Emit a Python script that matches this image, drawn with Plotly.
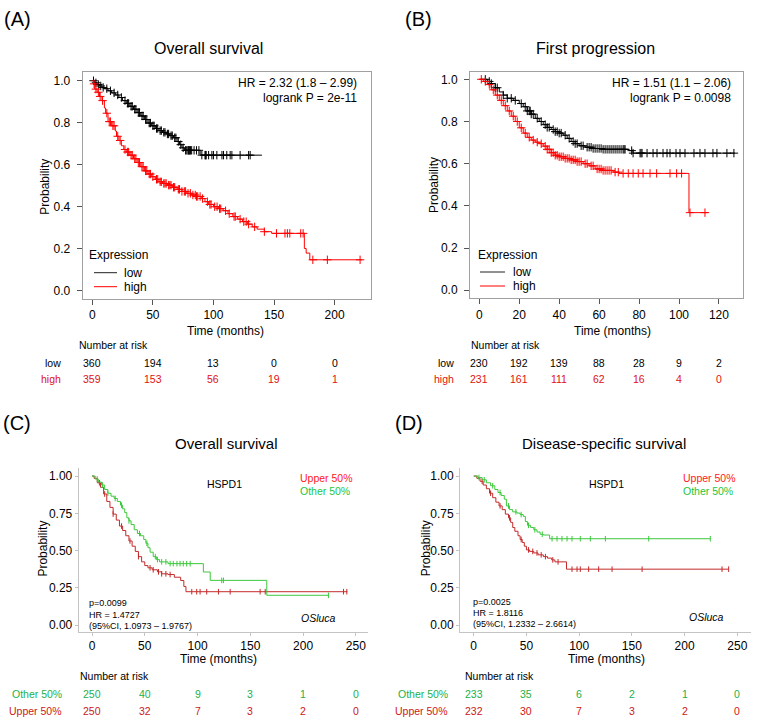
import numpy as np
import plotly.graph_objects as go

W, H = 761, 725
FONT = "Liberation Sans, Arial, sans-serif"

# ---------------- DATA ----------------
# Panel A : Overall survival (low / high)
A_low_t = [2, 4, 6, 8, 10, 13, 16, 19, 22, 25, 28, 31, 34, 37, 40, 43, 46, 49, 52, 55, 58, 61, 64, 67, 70, 72, 74, 76, 89]
A_low_s = [0.99, 0.982, 0.975, 0.968, 0.962, 0.952, 0.942, 0.932, 0.92, 0.905, 0.892, 0.878, 0.864, 0.848, 0.832, 0.815,
           0.798, 0.785, 0.772, 0.762, 0.754, 0.746, 0.738, 0.728, 0.71, 0.695, 0.68, 0.668, 0.645]
A_low_end = 140
A_low_cens = [1, 3, 5, 7, 9, 12, 15, 18, 21, 24, 27, 29, 30, 32, 33, 35, 36, 38, 39, 41, 42, 44, 45, 47, 48, 50, 51, 53,
              54, 56, 57, 59, 60, 62, 63, 65, 66, 68, 69, 71, 73, 75, 77, 78, 79, 79.5, 80, 80.5, 81, 82, 84, 86, 88,
              90.4, 93, 93.5, 94, 96, 98.7, 100, 102.8, 107, 108.3, 111, 113.8, 115.2, 122, 129, 130.3]
A_high_t = [1, 2, 4, 6, 8, 10, 11, 13, 16, 19, 20, 22, 24, 26, 28, 31, 34, 37, 40, 43, 46, 49, 52, 55, 58, 62, 66, 70, 74,
            78, 82, 86, 90, 93, 96, 100, 104, 108, 112, 116, 120, 124, 128, 132, 136, 142, 148, 175, 176.5, 179.5]
A_high_s = [0.985, 0.96, 0.945, 0.925, 0.905, 0.87, 0.845, 0.805, 0.785, 0.76, 0.735, 0.715, 0.69, 0.672, 0.66, 0.645,
            0.628, 0.61, 0.59, 0.57, 0.555, 0.542, 0.53, 0.518, 0.51, 0.502, 0.492, 0.482, 0.472, 0.463, 0.455, 0.448,
            0.438, 0.423, 0.41, 0.399, 0.39, 0.38, 0.366, 0.352, 0.34, 0.328, 0.316, 0.303, 0.292, 0.28, 0.272, 0.2,
            0.178, 0.146]
A_high_end = 222.6
A_high_cens = [1.5, 3, 5, 6.5, 8.5, 12, 14, 15, 17, 18, 21, 23, 27, 29, 30, 32, 33, 35, 36, 38, 39, 41, 42, 44, 45, 47, 48,
               50, 53, 54, 56, 57, 59, 60, 61, 63, 64, 65, 67, 68, 71, 72, 74, 76, 77, 79, 81, 83, 85, 86, 87, 89, 91,
               95, 97, 98, 101, 103, 105, 106, 110, 113, 117, 118, 122, 125, 127, 129, 134, 142, 152, 159, 161, 163,
               172, 174, 182, 194, 221]
A_risk_t = [0, 50, 100, 150, 200]
A_risk_low = [360, 194, 13, 0, 0]
A_risk_high = [359, 153, 56, 19, 1]

# Panel B : First progression (low / high)
B_low_t = [4, 6, 8, 10, 12, 14, 17, 20, 22, 24, 26, 28, 30, 32, 34, 36, 38, 40, 42, 44, 46, 48, 50, 53, 57, 62, 75, 77]
B_low_s = [0.99, 0.98, 0.96, 0.94, 0.925, 0.91, 0.9, 0.885, 0.87, 0.85, 0.835, 0.815, 0.8, 0.785, 0.772, 0.762, 0.752,
           0.745, 0.735, 0.72, 0.705, 0.695, 0.685, 0.678, 0.672, 0.668, 0.662, 0.65]
B_low_end = 128
B_low_cens = [3, 5, 6, 8, 9, 12, 14, 16, 18, 21, 23, 24, 25, 25.5, 26, 27, 29, 31, 33, 34, 35, 37, 38, 39, 40, 41, 43,
              45, 47, 48, 49, 51, 52, 54, 55, 56, 57, 58, 59, 60, 61, 62, 63, 64, 65, 66, 67, 68, 69, 70, 71, 72, 72.5,
              73, 76.3, 77, 80.5, 81, 81.5, 84, 87, 89, 92, 94, 95.5, 98.5, 100.5, 103, 107.5, 110.5, 113, 117, 119,
              124, 127.5]
B_high_t = [2, 4, 6, 8, 10, 12, 14, 16, 18, 20, 22, 24, 26, 28, 30, 32, 34, 36, 38, 40, 43, 46, 49, 52, 55, 58, 62, 67,
            70, 105]
B_high_s = [0.99, 0.975, 0.95, 0.925, 0.9, 0.875, 0.85, 0.825, 0.8, 0.77, 0.745, 0.725, 0.712, 0.702, 0.695, 0.683,
            0.668, 0.652, 0.64, 0.633, 0.625, 0.618, 0.61, 0.6, 0.59, 0.575, 0.568, 0.56, 0.554, 0.368]
B_high_end = 114.6
B_high_cens = [1, 3, 5, 7, 9, 11, 13, 15, 17, 19, 21, 23, 25, 27, 29, 31, 33, 34, 35, 36, 37, 38, 39, 40, 41, 42, 43, 44,
               45, 46, 47, 48, 49, 50, 51, 53, 54, 56, 57, 59, 60, 61, 62, 63, 64, 65, 66, 68, 69.6, 72, 74.6, 77,
               79.6, 82, 85.5, 88.8, 95.5, 98.8, 101.3, 105.5, 113]
B_risk_t = [0, 20, 40, 60, 80, 100, 120]
B_risk_low = [230, 192, 139, 88, 28, 9, 2]
B_risk_high = [231, 161, 111, 62, 16, 4, 0]

# Panel C : Overall survival (Other 50% / Upper 50%)
C_oth_t = [3, 6, 9, 12, 15, 18, 21, 24, 27, 29, 31, 33, 35, 37, 40, 43, 46, 49, 51, 53, 55, 58, 61, 64, 72, 105.5, 112,
           165.6]
C_oth_s = [0.98, 0.96, 0.94, 0.91, 0.885, 0.865, 0.85, 0.83, 0.805, 0.78, 0.755, 0.72, 0.7, 0.675, 0.64, 0.615, 0.6,
           0.575, 0.55, 0.52, 0.49, 0.46, 0.44, 0.425, 0.413, 0.357, 0.301, 0.201]
C_oth_end = 224
C_oth_cens = [5, 10, 15, 22, 28, 35, 45, 52, 60, 62, 66, 70, 74, 77, 80.5, 83.4, 86.5, 89.7, 93, 122.9, 124.5, 224]
C_upp_t = [2, 5, 8, 11, 14, 17, 20, 23, 26, 29, 32, 35, 38, 41, 44, 47, 50, 53, 57, 62, 66, 72, 78, 84, 87, 89]
C_upp_s = [0.985, 0.955, 0.925, 0.88, 0.83, 0.79, 0.745, 0.705, 0.665, 0.635, 0.6, 0.565, 0.53, 0.495, 0.46, 0.425, 0.4,
           0.385, 0.372, 0.358, 0.345, 0.34, 0.322, 0.3, 0.26, 0.225]
C_upp_end = 242
C_upp_cens = [7, 12, 20, 28, 36, 44, 55, 58, 63, 66, 70, 74, 94.5, 99.2, 102.4, 108.7, 119.8, 130.9, 159.3, 164.1,
              238.3, 241.4]
C_risk_t = [0, 50, 100, 150, 200, 250]
C_risk_oth = [250, 40, 9, 3, 1, 0]
C_risk_upp = [250, 32, 7, 3, 2, 0]

# Panel D : Disease-specific survival (Other 50% / Upper 50%)
D_oth_t = [4, 8, 12, 16, 20, 23, 26, 29, 31, 34, 37, 41, 44, 47, 49, 51, 54, 57, 60, 63, 66, 72]
D_oth_s = [0.99, 0.975, 0.955, 0.935, 0.91, 0.89, 0.87, 0.845, 0.8, 0.775, 0.76, 0.752, 0.742, 0.73, 0.695, 0.67, 0.655,
           0.64, 0.625, 0.61, 0.605, 0.58]
D_oth_end = 224.4
D_oth_cens = [5, 10, 18, 25, 33, 40, 45, 52, 58, 65, 74.3, 79, 83.7, 88.5, 93.2, 101.1, 110.6, 124.9, 166, 224.4]
D_upp_t = [3, 6, 9, 12, 15, 18, 21, 24, 27, 30, 33, 35, 37, 39, 42, 44, 46, 48, 50, 53, 57, 61, 66, 70, 74, 77, 88]
D_upp_s = [0.985, 0.965, 0.94, 0.915, 0.885, 0.855, 0.825, 0.8, 0.775, 0.745, 0.72, 0.69, 0.655, 0.63, 0.6, 0.575, 0.555,
           0.53, 0.505, 0.495, 0.485, 0.472, 0.46, 0.45, 0.438, 0.425, 0.376]
D_upp_end = 241.8
D_upp_cens = [8, 16, 25, 34, 45, 52, 56, 60, 64, 68, 75, 80, 93.2, 98, 101.1, 109, 118.5, 131.2, 159.7, 235.5, 241.8]
D_risk_t = [0, 50, 100, 150, 200, 250]
D_risk_oth = [233, 35, 6, 2, 1, 0]
D_risk_upp = [232, 30, 7, 3, 2, 0]

# ---------------- HELPERS ----------------
def px(x):
    return x / W


def py(y):
    return 1 - y / H


def km_xy(times, surv, end):
    return [0.0] + list(times) + [end], [1.0] + list(surv) + [surv[-1]]


def cens_y(times, surv, ct):
    t = np.array(times, float)
    s = np.array(surv, float)
    idx = np.searchsorted(t, np.array(ct, float), side="right") - 1
    return np.where(idx >= 0, s[np.clip(idx, 0, None)], 1.0)


RED_AB = "#FF0000"
BLK = "#000000"
GRN = "#3CC83C"
RED_CD = "#C42A2A"

fig = go.Figure()


def add_curve(ax, times, surv, end, cens, color, sym, msize, lw=1):
    x, y = km_xy(times, surv, end)
    xa, ya = ("x", "y") if ax == 1 else (f"x{ax}", f"y{ax}")
    fig.add_trace(go.Scatter(x=x, y=y, mode="lines", line=dict(color=color, width=lw, shape="hv"),
                             xaxis=xa, yaxis=ya, showlegend=False, hoverinfo="skip"))
    fig.add_trace(go.Scatter(x=cens, y=cens_y(times, surv, cens), mode="markers",
                             marker=dict(symbol=sym, size=msize, color=color, line=dict(width=1, color=color)),
                             xaxis=xa, yaxis=ya, showlegend=False, hoverinfo="skip"))


add_curve(1, A_low_t, A_low_s, A_low_end, A_low_cens, BLK, "cross-thin", 6)
add_curve(1, A_high_t, A_high_s, A_high_end, A_high_cens, RED_AB, "cross-thin", 6)
add_curve(2, B_low_t, B_low_s, B_low_end, B_low_cens, BLK, "cross-thin", 6)
add_curve(2, B_high_t, B_high_s, B_high_end, B_high_cens, RED_AB, "cross-thin", 6)
add_curve(3, C_upp_t, C_upp_s, C_upp_end, C_upp_cens, RED_CD, "line-ns", 4)
add_curve(3, C_oth_t, C_oth_s, C_oth_end, C_oth_cens, GRN, "line-ns", 4)
add_curve(4, D_upp_t, D_upp_s, D_upp_end, D_upp_cens, RED_CD, "line-ns", 4)
add_curve(4, D_oth_t, D_oth_s, D_oth_end, D_oth_cens, GRN, "line-ns", 4)

# ---------------- AXES ----------------
tickfont = dict(family=FONT, size=12, color="#000")


def ab_x(dom, rng, tv):
    return dict(domain=[px(dom[0]), px(dom[1])], range=rng, tickvals=tv, showline=True, mirror=True,
                linecolor="#A0A0A0", linewidth=1, ticks="outside", ticklen=5, tickcolor="#555",
                showgrid=False, zeroline=False, tickfont=tickfont)


def ab_y(dom, rng, anchor):
    return dict(domain=[py(dom[1]), py(dom[0])], range=rng, tickvals=[0, 0.2, 0.4, 0.6, 0.8, 1.0],
                tickformat=".1f", showline=True, mirror=True, linecolor="#A0A0A0", linewidth=1,
                ticks="outside", ticklen=5, tickcolor="#555", showgrid=False, zeroline=False,
                tickfont=tickfont, anchor=anchor, ticklabelstandoff=4)


def cd_x(dom, rng):
    return dict(domain=[px(dom[0]), px(dom[1])], range=rng, tickvals=[0, 50, 100, 150, 200, 250],
                showline=True, mirror=False, linecolor="#C4C4C4", linewidth=1, ticks="outside", ticklen=3,
                tickcolor="#C4C4C4", showgrid=False, zeroline=False, tickfont=tickfont)


def cd_y(dom, rng, anchor):
    return dict(domain=[py(dom[1]), py(dom[0])], range=rng, tickvals=[0, 0.25, 0.5, 0.75, 1.0],
                tickformat=".2f", showline=True, mirror=False, linecolor="#C4C4C4", linewidth=1,
                ticks="outside", ticklen=3, tickcolor="#C4C4C4", showgrid=False, zeroline=False,
                tickfont=tickfont, anchor=anchor)


fig.update_layout(
    width=W, height=H, autosize=False, margin=dict(l=0, r=0, t=0, b=0),
    paper_bgcolor="white", plot_bgcolor="white", font=dict(family=FONT, color="#000"),
    xaxis=dict(ab_x((82.7, 371), [-7.9, 230], [0, 50, 100, 150, 200]), anchor="y"),
    yaxis=ab_y((71.7, 299), [-0.041, 1.043], "x"),
    xaxis2=dict(ab_x((470, 742.7), [-4.66, 131.9], [0, 20, 40, 60, 80, 100, 120]), anchor="y2"),
    yaxis2=ab_y((71.7, 298.3), [-0.038, 1.036], "x2"),
    xaxis3=dict(cd_x((78.7, 367.7), [-12.6, 261.2]), anchor="y3"),
    yaxis3=cd_y((468, 631.7), [-0.043, 1.054], "x3"),
    xaxis4=dict(cd_x((460, 750.7), [-13, 262.7]), anchor="y4"),
    yaxis4=cd_y((468, 631.7), [-0.043, 1.054], "x4"),
)

# ---------------- TEXT ----------------
ann = []


def T(x, y, text, size=12, color="#000", xanchor="center", angle=0, xref="paper"):
    ann.append(dict(x=(px(x) if xref == "paper" else x), y=py(y), xref=xref, yref="paper", text=text,
                    showarrow=False, xanchor=xanchor, yanchor="middle", textangle=angle,
                    font=dict(family=FONT, size=size, color=color)))


# panel labels & titles
T(1.5, 19, "(A)", 20, xanchor="left")
T(403, 19, "(B)", 20, xanchor="left")
T(1, 423, "(C)", 20, xanchor="left")
T(393, 423, "(D)", 20, xanchor="left")
T(208, 49, "Overall survival", 16)
T(595, 49, "First progression", 16)
T(226.7, 443.3, "Overall survival", 15)
T(603.7, 443.3, "Disease-specific survival", 15)

# axis titles
T(225, 330.7, "Time (months)", 12)
T(612.3, 330.7, "Time (months)", 12)
T(218, 659, "Time (months)", 12)
T(606, 659, "Time (months)", 12)
T(45, 186.7, "Probability", 12, angle=-90)
T(434, 185, "Probability", 12, angle=-90)
T(43.3, 548.3, "Probability", 12, angle=-90)
T(426, 548.3, "Probability", 12, angle=-90)

# HR texts A/B
T(359.3, 83.3, "HR = 2.32 (1.8 \u2013 2.99)", 12, xanchor="right")
T(359.3, 97.7, "logrank P = 2e-11", 12, xanchor="right")
T(733.3, 83.3, "HR = 1.51 (1.1 \u2013 2.06)", 12, xanchor="right")
T(733.3, 97.7, "logrank P = 0.0098", 12, xanchor="right")

# legends A/B
shapes = []
for (lx0, lx1, tx, ex, ly1, ly2) in [(94, 117, 121.7, 87.3, 272.7, 286.7), (480, 505, 510.7, 476, 272, 286)]:
    T(ex, 255, "Expression", 12, xanchor="left")
    T(tx, ly1, "low", 12, xanchor="left")
    T(tx, ly2, "high", 12, xanchor="left")
    shapes.append(dict(type="line", xref="paper", yref="paper", x0=px(lx0), x1=px(lx1), y0=py(ly1), y1=py(ly1),
                       line=dict(color="#222", width=1)))
    shapes.append(dict(type="line", xref="paper", yref="paper", x0=px(lx0), x1=px(lx1), y0=py(ly2), y1=py(ly2),
                       line=dict(color=RED_AB, width=1)))

# C/D inner annotations
T(224, 484.3, "HSPD1", 10.5)
T(298.3, 478.3, "Upper 50%", 10.5, color="#FF2020", xanchor="left")
T(298.3, 490.7, "Other 50%", 10.5, color="#22C640", xanchor="left")
T(87.3, 603.3, "p=0.0099", 9, xanchor="left")
T(87.3, 615, "HR = 1.4727", 9, xanchor="left")
T(87.3, 626, "(95%CI, 1.0973 \u2013 1.9767)", 9, xanchor="left")
T(338, 618.3, "<i>OSluca</i>", 10.5, xanchor="right")

T(606.7, 484.3, "HSPD1", 10.5)
T(680.7, 478.3, "Upper 50%", 10.5, color="#FF2020", xanchor="left")
T(680.7, 490.7, "Other 50%", 10.5, color="#22C640", xanchor="left")
T(470.7, 602.3, "p=0.0025", 9, xanchor="left")
T(470.7, 613.3, "HR = 1.8116", 9, xanchor="left")
T(470.7, 624.3, "(95%CI, 1.2332 \u2013 2.6614)", 9, xanchor="left")
T(726, 616.7, "<i>OSluca</i>", 10.5, xanchor="right")

# risk tables
RS = 10.5
RED_T = "#E01010"
GRN_T = "#22B04A"
RED_T2 = "#CC1818"
T(77, 345, "Number at risk", RS, xanchor="left")
T(63, 362.7, "low", RS, xanchor="right")
T(63, 379, "high", RS, color=RED_T, xanchor="right")
for t, a, b in zip(A_risk_t, A_risk_low, A_risk_high):
    T(t, 362.7, str(a), RS, xref="x")
    T(t, 379, str(b), RS, color=RED_T, xref="x")

T(469, 345, "Number at risk", RS, xanchor="left")
T(456, 362.7, "low", RS, xanchor="right")
T(456, 379, "high", RS, color=RED_T, xanchor="right")
for t, a, b in zip(B_risk_t, B_risk_low, B_risk_high):
    T(t, 362.7, str(a), RS, xref="x2")
    T(t, 379, str(b), RS, color=RED_T, xref="x2")

T(77.7, 676, "Number at risk", RS, xanchor="left")
T(64, 694, "Other 50%", RS, color=GRN_T, xanchor="right")
T(64, 711, "Upper 50%", RS, color=RED_T2, xanchor="right")
for t, a, b in zip(C_risk_t, C_risk_oth, C_risk_upp):
    T(t, 694, str(a), RS, color=GRN_T, xref="x3")
    T(t, 711, str(b), RS, color=RED_T2, xref="x3")

T(463.3, 676, "Number at risk", RS, xanchor="left")
T(450, 694, "Other 50%", RS, color=GRN_T, xanchor="right")
T(450, 711, "Upper 50%", RS, color=RED_T2, xanchor="right")
for t, a, b in zip(D_risk_t, D_risk_oth, D_risk_upp):
    T(t, 694, str(a), RS, color=GRN_T, xref="x4")
    T(t, 711, str(b), RS, color=RED_T2, xref="x4")

fig.update_layout(annotations=ann, shapes=shapes)
fig.write_html("out.html", config={"displayModeBar": False},
               post_script="document.body.style.margin='0';document.body.style.overflow='hidden';")
